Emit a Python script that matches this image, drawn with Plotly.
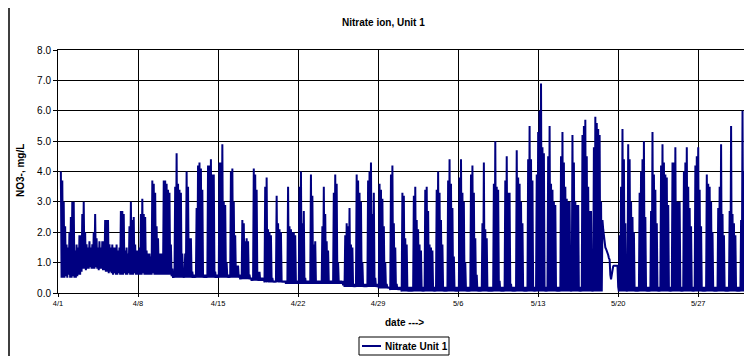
import datetime as dt
import plotly.graph_objects as go

# ---------------- data ----------------
START_DATE = "2003-04-01"
READING_HOURS = [0, 3, 6, 9, 12, 15, 18, 21]   # envelope readings each day
LOW_OFFSET_H = 1.5                             # in-between low reading

# upper readings per day (4/1 ... 5/31)
HIGH = [
    [None, None, 4.0, 3.7, 3.0, 2.2, 1.6, 1.5],
    [2.0, 2.5, 3.0, 3.0, 1.4, 1.6, 1.5, 1.9],
    [1.9, 2.6, 3.0, 2.0, 1.6, 1.5, 1.7, 1.5],
    [1.6, 2.0, 2.6, 1.8, 1.5, 1.7, 1.5, 1.7],
    [1.7, 2.4, 2.4, 2.4, 1.6, 1.5, 1.6, 1.5],
    [1.5, 1.6, 1.4, 1.5, 2.7, 2.7, 2.6, 1.4],
    [1.5, 1.3, 2.2, 3.0, 2.4, 2.5, 1.6, 1.4],
    [1.4, 1.5, 2.6, 3.1, 2.6, 2.5, 1.4, 1.3],
    [1.3, 1.2, 3.7, 3.6, 3.3, 2.2, 1.8, 1.3],
    [1.3, 1.3, 3.7, 3.7, 3.6, 3.4, 3.3, 1.6],
    [0.8, 0.7, 3.5, 4.6, 3.6, 3.4, 3.3, 1.3],
    [0.7, 1.3, 4.0, 3.5, 1.8, 1.8, 0.7, 0.6],
    [0.6, 2.8, 4.2, 4.3, 4.1, 3.4, 0.6, 0.6],
    [0.6, 4.2, 4.2, 4.4, 3.9, 3.9, 0.7, 0.6],
    [0.6, 4.3, 4.3, 4.9, 3.0, 2.9, 1.0, 0.6],
    [0.6, 4.0, 4.1, 3.0, 1.9, 0.9, 0.9, 0.6],
    [0.6, 2.4, 2.3, 1.7, 1.8, 1.7, 0.6, 0.5],
    [0.5, 4.1, 3.9, 3.4, 0.7, 0.7, 0.5, 0.5],
    [0.5, 3.5, 3.8, 2.1, 2.0, 1.9, 0.5, 0.4],
    [0.4, 3.2, 2.3, 2.1, 2.0, 0.4, 0.4, 0.4],
    [0.4, 3.5, 2.2, 2.1, 2.0, 2.0, 1.9, 0.4],
    [0.4, 3.5, 4.0, 2.3, 2.7, 0.5, 0.4, 0.4],
    [0.4, 3.9, 3.2, 1.6, 1.7, 0.4, 0.4, 0.4],
    [0.4, 2.2, 3.5, 2.6, 1.7, 1.4, 0.4, 0.4],
    [0.4, 3.3, 3.9, 3.6, 1.0, 0.4, 0.4, 0.4],
    [0.4, 1.9, 2.3, 2.2, 2.8, 1.6, 1.5, 0.3],
    [0.3, 3.9, 3.7, 3.3, 3.0, 1.0, 0.3, 0.3],
    [0.3, 3.7, 4.0, 4.3, 2.6, 3.3, 0.5, 0.3],
    [0.3, 3.6, 3.4, 3.1, 2.2, 1.0, 0.3, 0.2],
    [0.2, 3.9, 4.2, 2.3, 1.5, 0.3, 0.2, 0.2],
    [0.2, 3.3, 3.2, 1.8, 1.6, 0.2, 0.2, 0.2],
    [0.2, 3.2, 3.5, 2.4, 2.1, 1.6, 1.4, 0.2],
    [0.2, 3.4, 3.5, 2.7, 1.6, 1.5, 1.4, 0.2],
    [0.2, 3.4, 4.0, 3.3, 2.4, 1.6, 0.2, 0.2],
    [0.2, 3.7, 4.4, 3.6, 2.8, 1.2, 0.2, 0.2],
    [0.2, 3.8, 4.4, 3.3, 3.0, 1.0, 0.2, 0.2],
    [0.2, 3.9, 4.2, 3.3, 1.8, 0.6, 0.2, 0.2],
    [0.2, 2.3, 4.3, 2.1, 1.8, 0.2, 0.2, 0.2],
    [0.2, 3.6, 5.0, 3.5, 3.4, 0.4, 0.2, 0.2],
    [0.2, 3.7, 4.5, 3.3, 3.3, 0.3, 0.2, 0.2],
    [0.2, 4.7, 3.8, 3.6, 3.0, 2.3, 0.2, 0.2],
    [0.2, 4.4, 5.5, 4.4, 3.7, 0.2, 0.2, 3.9],
    [5.3, 6.0, 6.9, 4.8, 4.6, 0.2, 0.2, 4.5],
    [5.5, 3.6, 3.4, 3.0, 2.9, 0.2, 0.2, 0.2],
    [4.5, 5.3, 4.3, 3.5, 3.1, 3.0, 3.0, 0.2],
    [5.2, 4.3, 3.0, 2.9, 2.9, 0.2, 0.2, 5.2],
    [5.5, 5.7, 4.5, 3.5, 2.7, 2.7, 0.2, 4.8],
    [5.8, 5.6, 5.4, 5.2, 3.0, 2.4, 1.8, 1.5],
    [1.4, 1.25, 1.1, 0.45, 0.85, 0.9, 0.9, 0.9],
    [0.2, 1.9, 3.5, 5.4, 4.4, 2.3, 0.2, 4.9],
    [4.4, 3.0, 2.5, 2.0, 0.2, 0.2, 0.2, 3.3],
    [4.0, 4.4, 5.0, 2.5, 0.2, 0.2, 0.2, 2.7],
    [5.3, 3.9, 3.4, 2.3, 0.2, 0.2, 4.2, 4.9],
    [4.3, 3.9, 3.8, 2.9, 0.2, 0.2, 4.3, 4.3],
    [4.8, 3.0, 3.0, 3.0, 0.2, 0.2, 4.0, 4.3],
    [4.8, 3.5, 2.8, 2.2, 0.2, 0.2, 4.2, 4.5],
    [4.8, 3.4, 2.2, 0.2, 0.2, 0.2, 3.9, 3.6],
    [3.5, 3.0, 2.0, 0.2, 0.2, 0.2, 2.8, 3.5],
    [4.9, 2.6, 1.9, 0.2, 0.2, 0.2, 2.7, 5.5],
    [2.6, 2.3, 1.9, 0.2, 0.2, 0.2, 2.4, 6.0],
    [4.0, 2.4, 2.0, 1.4],
]

# lower readings in between (1.5 h after each upper reading)
LOW = [
    [None, None, 0.5, 0.5, 0.5, 0.55, 0.5, 0.6],
    [0.5, 0.5, 0.55, 0.5, 0.5, 0.55, 0.6, 0.6],
    [0.7, 0.8, 0.8, 0.75, 0.8, 0.8, 0.85, 0.8],
    [0.8, 0.8, 0.85, 0.8, 0.75, 0.8, 0.8, 0.75],
    [0.75, 0.7, 0.7, 0.65, 0.7, 0.65, 0.6, 0.65],
    [0.6, 0.6, 0.65, 0.6, 0.6, 0.6, 0.65, 0.6],
    [0.6, 0.65, 0.6, 0.6, 0.6, 0.65, 0.6, 0.6],
    [0.6, 0.6, 0.6, 0.65, 0.6, 0.6, 0.6, 0.6],
    [0.6, 0.6, 0.65, 0.6, 0.6, 0.6, 0.6, 0.6],
    [0.6, 0.6, 0.6, 0.6, 0.6, 0.6, 0.6, 0.55],
    [0.5, 0.5, 0.5, 0.5, 0.5, 0.5, 0.5, 0.5],
    [0.5, 0.5, 0.5, 0.5, 0.5, 0.5, 0.5, 0.5],
    [0.5, 0.5, 0.5, 0.5, 0.5, 0.5, 0.5, 0.5],
    [0.5, 0.5, 0.5, 0.5, 0.5, 0.5, 0.5, 0.5],
    [0.5, 0.5, 0.5, 0.5, 0.5, 0.5, 0.5, 0.5],
    [0.5, 0.5, 0.5, 0.5, 0.5, 0.5, 0.5, 0.45],
    [0.45, 0.45, 0.45, 0.45, 0.45, 0.45, 0.45, 0.4],
    [0.4, 0.4, 0.4, 0.4, 0.4, 0.4, 0.4, 0.4],
    [0.35, 0.35, 0.35, 0.35, 0.35, 0.35, 0.35, 0.35],
    [0.35, 0.35, 0.35, 0.35, 0.35, 0.35, 0.35, 0.3],
    [0.3, 0.3, 0.3, 0.3, 0.3, 0.3, 0.3, 0.3],
    [0.3, 0.3, 0.3, 0.3, 0.3, 0.3, 0.3, 0.3],
    [0.3, 0.3, 0.3, 0.3, 0.3, 0.3, 0.3, 0.3],
    [0.3, 0.3, 0.3, 0.3, 0.3, 0.3, 0.3, 0.3],
    [0.3, 0.3, 0.3, 0.3, 0.3, 0.3, 0.3, 0.25],
    [0.2, 0.2, 0.2, 0.2, 0.2, 0.2, 0.2, 0.2],
    [0.2, 0.2, 0.2, 0.2, 0.2, 0.2, 0.2, 0.2],
    [0.2, 0.2, 0.2, 0.2, 0.2, 0.2, 0.2, 0.2],
    [0.15, 0.15, 0.15, 0.15, 0.15, 0.15, 0.15, 0.15],
    [0.1, 0.1, 0.1, 0.1, 0.1, 0.1, 0.1, 0.1],
    [0.05, 0.05, 0.05, 0.05, 0.05, 0.05, 0.05, 0.05],
    [0.05, 0.05, 0.05, 0.05, 0.05, 0.05, 0.05, 0.05],
    [0.05, 0.05, 0.05, 0.05, 0.05, 0.05, 0.05, 0.05],
    [0.05, 0.05, 0.05, 0.05, 0.05, 0.05, 0.05, 0.05],
    [0.05, 0.05, 0.05, 0.05, 0.05, 0.05, 0.05, 0.05],
    [0.05, 0.05, 0.05, 0.05, 0.05, 0.05, 0.05, 0.05],
    [0.05, 0.05, 0.05, 0.05, 0.05, 0.05, 0.05, 0.05],
    [0.05, 0.05, 0.05, 0.05, 0.05, 0.05, 0.05, 0.05],
    [0.05, 0.05, 0.05, 0.05, 0.05, 0.05, 0.05, 0.05],
    [0.05, 0.05, 0.05, 0.05, 0.05, 0.05, 0.05, 0.05],
    [0.05, 0.05, 0.05, 0.05, 0.05, 0.05, 0.05, 0.05],
    [0.05, 0.05, 0.05, 0.05, 0.05, 0.05, 0.05, 0.05],
    [0.05, 0.05, 0.05, 0.05, 0.05, 0.05, 0.05, 0.05],
    [0.05, 0.05, 0.05, 0.05, 0.05, 0.05, 0.05, 0.05],
    [0.05, 0.05, 0.05, 0.05, 0.05, 0.05, 0.05, 0.05],
    [0.05, 0.05, 0.05, 0.05, 0.05, 0.05, 0.05, 0.05],
    [0.05, 0.05, 0.05, 0.05, 0.05, 0.05, 0.05, 0.05],
    [0.05, 0.05, 0.05, 0.05, 0.05, 2.1, 1.6, 1.45],
    [1.3, 1.15, 0.6, 0.6, 0.88, 0.9, 0.9, 0.9],
    [0.05, 0.05, 0.05, 0.05, 0.05, 0.05, 0.05, 0.05],
    [0.05, 0.05, 0.05, 0.05, 0.05, 0.05, 0.05, 0.05],
    [0.05, 0.05, 0.05, 0.05, 0.05, 0.05, 0.05, 0.05],
    [0.05, 0.05, 0.05, 0.05, 0.05, 0.05, 0.05, 0.05],
    [0.05, 0.05, 0.05, 0.05, 0.05, 0.05, 0.05, 0.05],
    [0.05, 0.05, 0.05, 0.05, 0.05, 0.05, 0.05, 0.05],
    [0.05, 0.05, 0.05, 0.05, 0.05, 0.05, 0.05, 0.05],
    [0.05, 0.05, 0.05, 0.05, 0.05, 0.05, 0.05, 0.05],
    [0.05, 0.05, 0.05, 0.05, 0.05, 0.05, 0.05, 0.05],
    [0.05, 0.05, 0.05, 0.05, 0.05, 0.05, 0.05, 0.05],
    [0.05, 0.05, 0.05, 0.05, 0.05, 0.05, 0.05, 0.05],
    [0.05, 0.05, 0.05, 0.05],
]

TICK_DATES = ["2003-04-01", "2003-04-08", "2003-04-15", "2003-04-22", "2003-04-29",
              "2003-05-06", "2003-05-13", "2003-05-20", "2003-05-27"]
TICK_LABELS = ["4/1", "4/8", "4/15", "4/22", "4/29", "5/6", "5/13", "5/20", "5/27"]
Y_TICKS = [0, 1, 2, 3, 4, 5, 6, 7, 8]
Y_LABELS = ["0.0", "1.0", "2.0", "3.0", "4.0", "5.0", "6.0", "7.0", "8.0"]

TITLE = "Nitrate ion, Unit 1"
X_TITLE = "date --->"
Y_TITLE = "NO3-, mg/L"
SERIES_NAME = "Nitrate Unit 1"

# ---------------- build series ----------------
start = dt.datetime.fromisoformat(START_DATE)
xs, ys = [], []
for d, (hs, ls) in enumerate(zip(HIGH, LOW)):
    for k, (h, l) in enumerate(zip(hs, ls)):
        if h is None:
            continue
        t = start + dt.timedelta(days=d, hours=READING_HOURS[k])
        xs.append(t)
        ys.append(h)
        if l is not None:
            xs.append(t + dt.timedelta(hours=LOW_OFFSET_H))
            ys.append(l)

# ---------------- layout geometry ----------------
# the page body has an 8px margin, so the figure starts at (8, 8) of the window
OFF = 8
W, H = 752 - OFF, 356 - OFF
PLOT_L, PLOT_R, PLOT_T, PLOT_B = 57.7, 748.0, 50.0, 293.3   # in window pixels
L = round(PLOT_L - OFF)
T = round(PLOT_T - OFF)
R = round(W - (PLOT_R - OFF))
B = round(H - (PLOT_B - OFF))
PW, PH = W - L - R, H - T - B


def px(xw):
    return (xw - OFF - L) / PW


def py(yw):
    return (T + PH - (yw - OFF)) / PH


FONT = "Liberation Sans, Arial, sans-serif"
NAVY = "#000080"
LABEL_SIZE = 10

fig = go.Figure()
fig.add_trace(go.Scatter(x=xs, y=ys, mode="lines", name=SERIES_NAME,
                         line=dict(color=NAVY, width=2), showlegend=False,
                         hoverinfo="skip"))

x_end = start + dt.timedelta(days=60, hours=8.5)
fig.update_layout(
    width=W, height=H,
    margin=dict(l=L, r=R, t=T, b=B, pad=0),
    paper_bgcolor="white", plot_bgcolor="white",
    font=dict(family=FONT, color="black", size=9),
    xaxis=dict(type="date", range=[start, x_end],
               tickvals=[dt.datetime.fromisoformat(s) for s in TICK_DATES],
               ticktext=TICK_LABELS,
               showgrid=True, gridcolor="#000000", gridwidth=1,
               showline=True, linecolor="#000000", linewidth=1, mirror=True,
               ticks="outside", ticklen=3, tickcolor="#000000",
               tickfont=dict(size=7.5),
               zeroline=False),
    yaxis=dict(range=[0, 8], tickvals=Y_TICKS, ticktext=Y_LABELS,
               showgrid=True, gridcolor="#000000", gridwidth=1,
               showline=True, linecolor="#000000", linewidth=1, mirror=True,
               ticks="outside", ticklen=4, tickcolor="#000000",
               tickfont=dict(size=10), zeroline=False),
)

ann = []
ann.append(dict(text="<b>" + TITLE + "</b>", x=px(383), y=py(22), xref="paper", yref="paper",
                showarrow=False, font=dict(size=LABEL_SIZE), xanchor="center", yanchor="middle"))
ann.append(dict(text="<b>" + X_TITLE + "</b>", x=px(405), y=py(322), xref="paper", yref="paper",
                showarrow=False, font=dict(size=LABEL_SIZE), xanchor="center", yanchor="middle"))
ann.append(dict(text="<b>" + Y_TITLE + "</b>", x=px(20), y=py(171), xref="paper", yref="paper",
                showarrow=False, font=dict(size=LABEL_SIZE), textangle=-90,
                xanchor="center", yanchor="middle"))
ann.append(dict(text="<b>" + SERIES_NAME + "</b>", x=px(383), y=py(346), xref="paper", yref="paper",
                showarrow=False, font=dict(size=LABEL_SIZE), xanchor="left", yanchor="middle"))

shapes = []
# chart-area border (continues past the right and bottom edges of the window)
shapes.append(dict(type="rect", xref="paper", yref="paper", x0=px(9), x1=px(770), y0=py(380), y1=py(5),
                   line=dict(color="black", width=1.5), fillcolor="rgba(0,0,0,0)", layer="above"))
# legend box
shapes.append(dict(type="rect", xref="paper", yref="paper", x0=px(359), x1=px(449), y0=py(355), y1=py(337),
                   line=dict(color="black", width=1), fillcolor="white"))
shapes.append(dict(type="line", xref="paper", yref="paper", x0=px(362), x1=px(381), y0=py(346), y1=py(346),
                   line=dict(color=NAVY, width=2)))

fig.update_layout(annotations=ann, shapes=shapes)
fig.write_html("out.html")
